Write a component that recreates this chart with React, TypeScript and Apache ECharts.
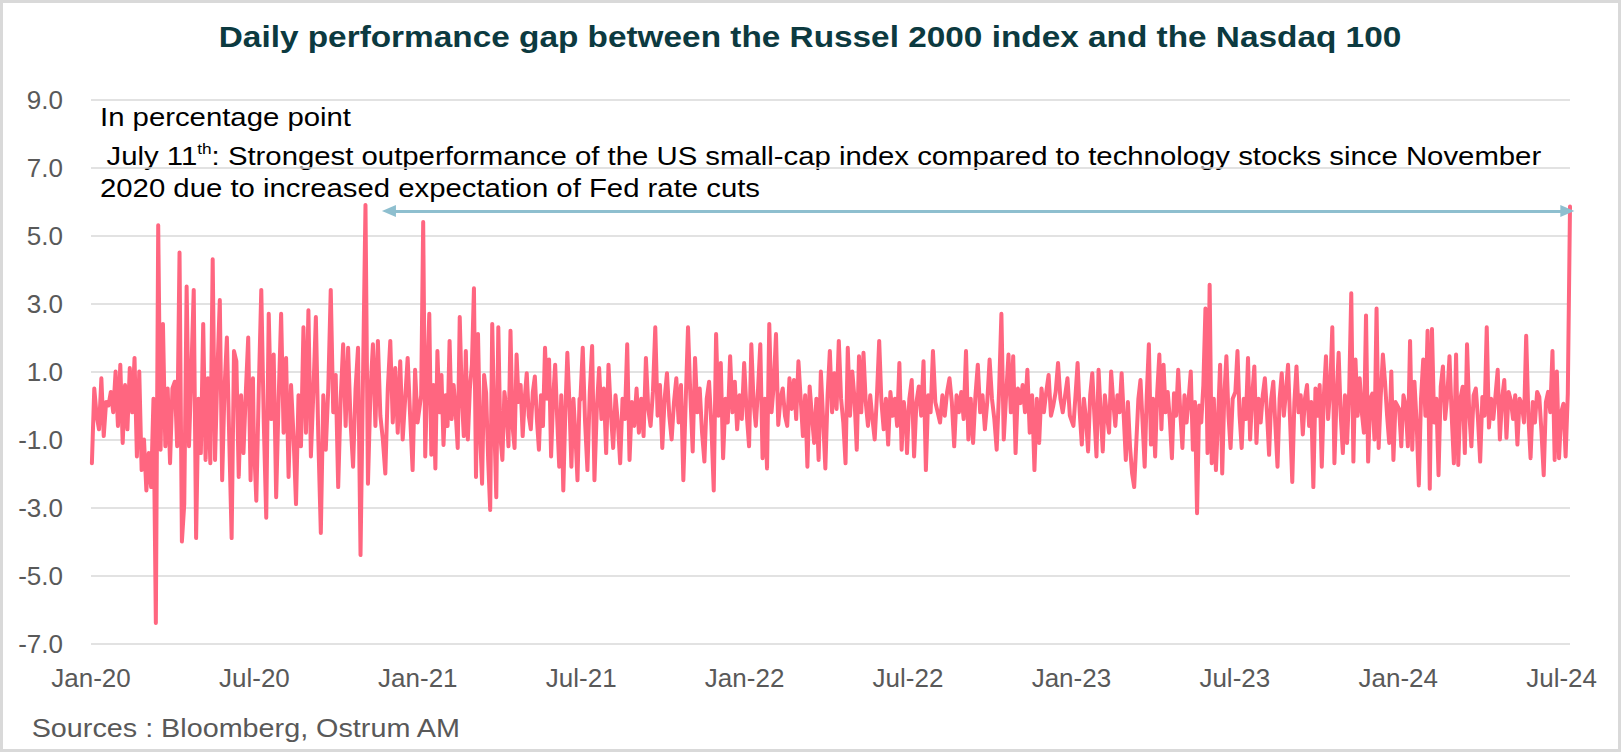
import React, { useEffect, useRef } from "react";
import * as echarts from "echarts";

// ---- Texts ----
const titleText = "Daily performance gap between the Russel 2000 index and the Nasdaq 100";
const unitText = "In percentage point";
const noteLine1a = "July 11";
const noteLine1sup = "th";
const noteLine1b = ": Strongest outperformance of the US small-cap index compared to technology stocks since November";
const noteLine2 = "2020 due to increased expectation of Fed rate cuts";
const sourceText = "Sources : Bloomberg, Ostrum AM";

// ---- X tick labels (every 6 months) ----
const tickLabels = ["Jan-20", "Jul-20", "Jan-21", "Jul-21", "Jan-22", "Jul-22", "Jan-23", "Jul-23", "Jan-24", "Jul-24"];

// ---- Series values (Russell 2000 minus Nasdaq 100 daily return, pp), per half-year ----
const h1_2020 = [-1.7, 0.5, -0.3, -0.7, 0.8, -0.9, 0.1, 0.0, 0.4, -0.2, 1.0, -0.6, 1.2, -1.1, 0.6, -0.7, 1.1, -0.2, 1.4, -1.5, 1.0, -1.9, -1.0, -2.5, -1.4, -2.4, 0.2, -6.4, 5.3, -1.3, 2.4, -1.2, 0.5, -1.7, 0.5, 0.7, -1.2, 4.5, -4.0, -2.9, 3.5, -1.2, 1.0, 3.4, -3.9, 0.2, -1.4, 2.4, -1.6, 0.8, -1.7, 4.3, -1.6, 1.0, 3.1, -2.2, 0.5, 2.0, -1.0, -3.9, 1.6, 1.3, -2.1, 0.3, -1.4, 0.4, 2.0, -2.2, 0.8];
const h2_2020 = [-1.0, -2.8, 0.5, 3.4, -0.5, -3.3, 2.7, -0.4, 1.5, -2.7, 0.2, 2.7, -0.8, 1.4, -2.1, 0.6, -0.9, -2.9, 0.3, -1.2, 2.3, -0.8, 2.8, -1.5, 0.4, 2.6, -1.0, -3.75, 0.3, -1.3, 0.5, 3.4, -0.2, 0.9, -2.4, 0.2, 1.8, -0.6, 1.7, -0.5, -1.8, 0.5, 1.7, -4.4, 0.8, 5.9, -2.3, 0.4, 1.8, -0.6, 1.9, -0.3, -1.0, -2.0, 0.5, 1.9, -0.5, 1.1, -0.8, 1.3, -1.0, 0.2, 1.4, -0.3, -1.9, 1.05, -0.5];
const h1_2021 = [0.3, 5.4, -1.5, 0.8, 2.7, -1.45, 0.6, -1.85, 1.6, -0.2, 0.9, -1.16, 0.3, -0.6, 1.9, -0.4, 0.6, -0.2, -1.25, 2.6, 0.3, -0.9, 1.6, -1.0, 0.5, 1.2, 3.45, -2.1, 2.1, -0.8, -2.3, 0.9, 0.36, -1.6, -3.07, 2.4, -0.5, -2.7, 2.3, -0.9, -1.6, 0.4, -0.1, -1.2, 2.2, -0.6, -1.25, 1.5, 0.1, 0.6, -0.9, 0.2, 0.95, -0.3, -0.7, 0.4, 0.85, -0.4, -1.3, 0.3, -0.6, 1.7, 0.2, 1.35, -1.5, 0.2, 1.2, -0.4, -1.8, 0.3, -2.5, -0.2, 1.55, 0.1, -1.8, 0.2, -0.9, -2.2, 0.2];
const h2_2021 = [0.17, 1.7, -0.5, -1.9, 0.4, 1.75, -2.2, -0.1, 1.1, -0.4, 0.5, -1.4, 1.2, -0.2, -1.25, 0.3, -0.5, -1.7, 0.2, -0.4, 1.8, -1.6, 0.1, -0.6, 0.5, -0.8, 0.2, -0.9, 1.4, -0.1, -0.6, 0.4, 2.3, -0.3, 0.6, -1.25, 0.2, 0.95, -0.3, -1.0, 0.1, 0.8, -0.5, 0.6, -2.2, 0.1, 2.3, 0.3, -1.35, 1.4, -0.2, 0.5, -0.8, -1.65, 0.2, 0.7, -0.6, -2.5, 2.1, -0.3, 1.25, -1.55, 0.2, -0.5, 1.45, -0.2, 0.7, -0.7, 0.3, -0.4, 1.25];
const h1_2022 = [-0.3, -1.2, 1.8, 0.1, -0.6, 0.5, 1.8, -1.55, 0.2, -1.85, 2.4, -0.2, 0.6, 2.1, -0.57, 0.2, 0.5, -0.3, -0.6, 0.8, -0.1, 0.75, -0.4, 1.3, 0.2, -0.9, 0.3, -1.8, 0.56, -0.3, -1.1, 0.2, -1.6, 1.0, -0.4, -1.85, 0.3, 1.6, -0.2, 0.95, -0.1, 1.9, 0.2, -0.5, -1.7, 1.7, -0.3, 1.0, 0.2, -1.3, 1.45, -0.2, 1.55, 0.1, -0.6, 0.3, -0.4, -1.0, 0.3, 1.9, 0.1, -0.7, 0.2, -1.15, 0.4, -0.3, 0.2, -0.6, 1.25, -1.3, 0.1, -0.5];
const h2_2022 = [-1.4, 0.2, 0.75, -1.5, 0.1, 0.56, -0.3, 1.3, -1.9, 0.3, -0.2, 1.6, 0.1, -0.2, -0.5, 0.3, -0.3, 0.4, 0.8, 0.1, -1.2, 0.3, -0.2, 0.4, -0.4, 1.6, -1.0, 0.2, -1.1, 0.3, 1.2, -0.2, 0.3, -0.7, 0.1, 1.35, 0.2, -0.4, -1.3, 0.4, 2.7, -1.0, 0.3, 1.5, -0.2, 1.45, -1.4, 0.5, 0.07, 0.6, -0.2, 1.05, -0.8, 0.3, -1.9, 0.2, -1.1, 0.5, -0.2, 0.4, 0.9, -0.3, 0.0, 0.4, 1.25, 0.2, -0.2, 0.3, 0.8, -0.3];
const h1_2023 = [-0.6, 0.3, 1.25, -0.2, -1.15, 0.2, -0.4, -1.35, 0.3, 0.95, -0.3, -1.5, 1.05, -0.2, -1.35, 0.3, -0.3, -0.8, 1.0, 0.1, -0.6, 0.3, -0.2, 0.95, -0.3, -1.6, 0.1, -1.2, -2.0, -2.4, -1.1, 0.2, 0.75, -0.5, -1.8, 0.3, 1.8, -1.15, 0.2, -1.5, 0.4, 1.5, -0.7, 1.2, -0.2, 0.4, -0.4, -1.55, 0.36, -0.3, 1.05, -0.2, -1.25, 0.3, -0.5, 0.2, 1.0, -1.3, 0.1, -3.17, 0.0, -0.5, 0.6, 2.85, -1.4, 3.55, -1.7, 0.2, -1.9, -0.4, 1.2, -2.0, 0.3, 1.45, -0.3, -1.25, 0.2];
const h2_2023 = [0.4, 1.6, -0.3, -1.25, 0.2, -0.4, 1.4, -1.0, 0.3, 1.15, -1.1, 0.2, -0.5, 0.3, 0.8, -0.2, -1.45, 0.2, 0.7, -0.6, -1.8, 0.2, 0.95, -0.3, 0.4, 1.2, -0.5, -2.25, 0.1, 1.15, -0.2, 0.3, -0.85, 0.2, 0.6, -0.6, 0.1, -2.4, 0.5, -0.3, 0.6, -1.8, 0.3, 1.45, -0.4, 0.5, 2.3, -1.7, 0.2, 1.55, -0.3, -1.4, 0.3, -1.1, 0.4, 3.3, -1.65, 1.35, -0.3, 0.8, -0.2, -0.8, 2.65, -1.65, 0.2, 0.35, -1.0, 2.85, -1.25, 0.3, 1.5, 0.7, -0.3, -1.1, 1.0, -1.6, 0.1];
const h1_2024 = [-0.1, -1.2, 0.3, 0.0, -1.2, 1.9, -1.3, 0.7, -0.5, -2.35, 0.2, 1.35, -0.3, 2.2, -2.45, 2.25, -0.5, 0.2, -2.05, 0.55, 1.15, -0.4, 0.3, 1.45, -0.3, -1.7, 1.5, -1.75, 0.2, 0.55, -1.4, 1.8, -0.2, -1.2, 0.3, 0.5, -0.4, -1.65, 0.25, -0.3, 2.3, -0.65, 0.2, -0.4, 0.3, 1.05, -1.0, 0.2, 0.75, -0.95, 0.4, 0.15, -0.4, 0.3, -1.15, 0.2, 0.05, -0.5, 2.05, -0.3, -1.55, 0.1, -0.5, 0.4, 0.25, -0.8, -2.05, 0.1, 0.4, -0.2, 1.6, -1.6, 1.0, -1.55, -0.2, 0.05, -1.5, 0.35, 5.85];

// date span covered by each half-year array (first / last trading day)
const periods = [
  { from: "2020-01-02", to: "2020-06-30", values: h1_2020 },
  { from: "2020-07-01", to: "2020-12-31", values: h2_2020 },
  { from: "2021-01-04", to: "2021-06-30", values: h1_2021 },
  { from: "2021-07-01", to: "2021-12-31", values: h2_2021 },
  { from: "2022-01-03", to: "2022-06-30", values: h1_2022 },
  { from: "2022-07-01", to: "2022-12-30", values: h2_2022 },
  { from: "2023-01-03", to: "2023-06-30", values: h1_2023 },
  { from: "2023-07-03", to: "2023-12-29", values: h2_2023 },
  { from: "2024-01-02", to: "2024-07-11", values: h1_2024 },
];

const axisStart = "2020-01-01";
const axisEnd = "2024-07-11";
const arrowFrom = "2020-11-29";
const arrowTo = "2024-07-08";
const arrowLevel = 5.72;

const ORIGIN = Date.UTC(2020, 0, 1);
function dayOf(s: string): number {
  const [y, m, d] = s.split("-").map(Number);
  return (Date.UTC(y, m - 1, d) - ORIGIN) / 86400000;
}

function buildData(): number[][] {
  const out: number[][] = [];
  periods.forEach((p) => {
    const a = dayOf(p.from);
    const b = dayOf(p.to);
    const n = p.values.length;
    p.values.forEach((v, i) => out.push([a + ((b - a) * i) / (n - 1), v]));
  });
  return out;
}

const FONT = "'Liberation Sans', Arial, Helvetica, sans-serif";
const HALF_YEAR = 182.625;

export default function App() {
  const ref = useRef<HTMLDivElement>(null);

  useEffect(() => {
    document.body.style.margin = "0";
    if (!ref.current) return;
    const chart = echarts.init(ref.current, null, { renderer: "svg" });
    const data = buildData();

    const option: any = {
      animation: false,
      textStyle: { fontFamily: FONT },
      grid: { left: 91, right: 51, top: 99.5, bottom: 108.5, containLabel: false },
      xAxis: {
        type: "value",
        min: dayOf(axisStart),
        max: dayOf(axisEnd),
        interval: HALF_YEAR,
        axisLine: { show: false },
        axisTick: { show: false },
        splitLine: { show: false },
        axisLabel: {
          margin: 21,
          fontSize: 26,
          color: "#595959",
          fontFamily: FONT,
          formatter: (v: number) => {
            const idx = Math.round(v / HALF_YEAR);
            if (Math.abs(v - idx * HALF_YEAR) < 1 && idx >= 0 && idx < tickLabels.length) return tickLabels[idx];
            return "";
          },
        },
      },
      yAxis: {
        type: "value",
        min: -7,
        max: 9,
        interval: 1,
        axisLine: { show: false },
        axisTick: { show: false },
        axisLabel: {
          margin: 28,
          fontSize: 26,
          color: "#595959",
          fontFamily: FONT,
          formatter: (v: number) => (Math.abs(Math.round(v)) % 2 === 1 ? v.toFixed(1) : ""),
        },
        splitLine: {
          show: true,
          lineStyle: { color: ["#d9d9d9", "rgba(0,0,0,0)"], width: 1.5 },
        },
      },
      series: [
        {
          type: "line",
          data,
          showSymbol: false,
          symbol: "none",
          silent: true,
          lineStyle: { color: "#ff6680", width: 4, join: "round", cap: "round" },
          z: 3,
          markLine: {
            silent: true,
            symbol: ["triangle", "triangle"],
            symbolSize: [12, 14],
            label: { show: false },
            lineStyle: { color: "#8ebfcf", width: 3, type: "solid" },
            data: [
              [
                { coord: [dayOf(arrowFrom), arrowLevel] },
                { coord: [dayOf(arrowTo), arrowLevel] },
              ],
            ],
          },
        },
      ],
      graphic: [
        {
          type: "rect",
          silent: true,
          shape: { x: 1.5, y: 1.5, width: 1618, height: 749 },
          style: { fill: "none", stroke: "#d9d9d9", lineWidth: 3 },
        },
        {
          type: "text",
          x: 810,
          y: 37,
          scaleX: 1.15,
          style: {
            text: titleText,
            fontSize: 29,
            fontWeight: "bold",
            fontFamily: FONT,
            fill: "#0c3a40",
            align: "center",
            verticalAlign: "middle",
          },
        },
        {
          type: "text",
          x: 100,
          y: 117,
          scaleX: 1.15,
          style: { text: unitText, fontSize: 25.5, fontFamily: FONT, fill: "#000", verticalAlign: "middle" },
        },
        {
          type: "text",
          x: 106.5,
          y: 156,
          scaleX: 1.15,
          style: {
            text: "{a|" + noteLine1a + "}{s|" + noteLine1sup + "}{a|" + noteLine1b + "}",
            verticalAlign: "middle",
            rich: {
              a: { fontSize: 25.5, lineHeight: 30, fontFamily: FONT, fill: "#000" },
              s: { fontSize: 15, lineHeight: 16, fontFamily: FONT, fill: "#000", verticalAlign: "top" },
            },
          },
        },
        {
          type: "text",
          x: 100,
          y: 188.5,
          scaleX: 1.15,
          style: { text: noteLine2, fontSize: 25.5, fontFamily: FONT, fill: "#000", verticalAlign: "middle" },
        },
        {
          type: "text",
          x: 31.7,
          y: 728.5,
          scaleX: 1.15,
          style: { text: sourceText, fontSize: 25, fontFamily: FONT, fill: "#595959", verticalAlign: "middle" },
        },
      ],
    };

    chart.setOption(option);
    return () => chart.dispose();
  }, []);

  return <div ref={ref} style={{ width: 1621, height: 752 }} />;
}
